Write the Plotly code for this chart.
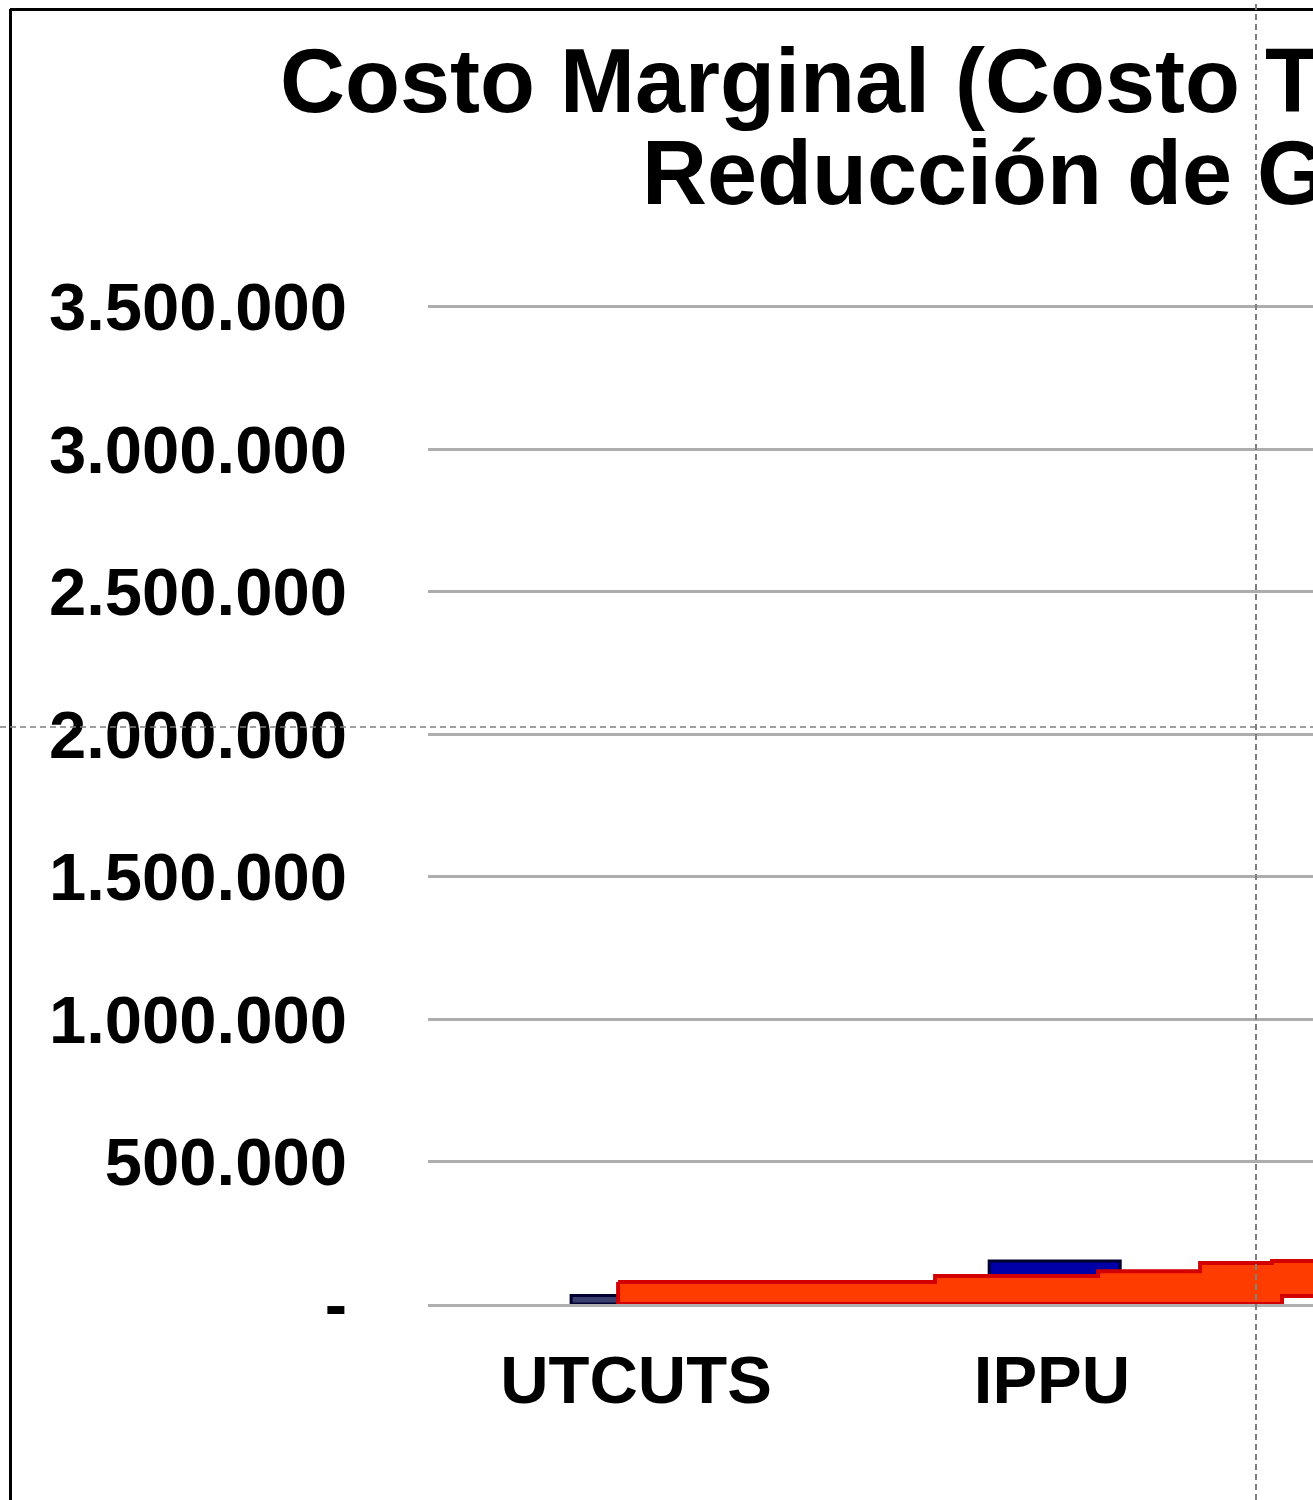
import numpy as np
import plotly.graph_objects as go

# ---------------- data ----------------
categories = ["UTCUTS", "IPPU"]          # sector bands (each one unit wide)
y_ticks = [0, 500000, 1000000, 1500000, 2000000, 2500000, 3000000, 3500000]

# blue columns (measure start, width, marginal cost)
blue_start = [0.344, 1.349]
blue_width = [0.113, 0.315]
blue_cost = [30000, 151000]
blue_fill = ["#3A3F70", "#0000A8"]

# red stepped cost curve (start, widths, costs, bases)
red_start = 0.457
red_width = [0.762, 0.392, 0.245, 0.173, 0.024, 0.40]
red_cost = [77000, 98000, 115000, 144000, 151000, 151000]
red_base = [0, 0, 0, 0, 0, 28000]

# ---------------- layout constants (pixels) ----------------
W, H = 1313, 1500
plot_left, plot_right = 428, 1313
y0_px, y35_px = 1304, 307
x_units = (plot_right - plot_left) / 416.0
y_top = 3550000
px_per_unit_y = (y0_px - y35_px) / 3500000
top_px = y0_px - y_top * px_per_unit_y

FONT = "Liberation Sans, Arial, sans-serif"

fig = go.Figure()

# blue bars
fig.add_trace(go.Bar(
    x=[s + w / 2 for s, w in zip(blue_start, blue_width)],
    width=blue_width,
    y=blue_cost,
    base=0,
    marker=dict(color=blue_fill, line=dict(color="#000030", width=3)),
    hoverinfo="skip",
))

# red step polygon built from data
edges = red_start + np.concatenate([[0], np.cumsum(red_width)])
xs, ys = [], []
for i in range(len(red_cost)):
    xs += [edges[i], edges[i + 1]]
    ys += [red_cost[i], red_cost[i]]
for i in reversed(range(len(red_cost))):
    xs += [edges[i + 1], edges[i]]
    ys += [red_base[i], red_base[i]]
xs.append(xs[0]); ys.append(ys[0])
fig.add_trace(go.Scatter(
    x=xs, y=ys, mode="lines", fill="toself",
    fillcolor="#FF3C00", line=dict(color="#D20000", width=4),
    hoverinfo="skip",
))

def fmt(v):
    return "-" if v == 0 else f"{v:,}".replace(",", ".")

fig.update_layout(
    width=W, height=H,
    margin=dict(l=0, r=0, t=0, b=0),
    paper_bgcolor="white", plot_bgcolor="white",
    showlegend=False,
    xaxis=dict(
        domain=[plot_left / W, 1.0],
        range=[0, x_units],
        tickvals=[i + 0.5 for i in range(len(categories))],
        ticktext=categories,
        tickfont=dict(family=FONT, size=67, color="black", weight="bold"),
        ticks="", showgrid=False, zeroline=False,
        showline=True, linecolor="#B0B0B0", linewidth=3,
        layer="below traces",
        ticklabelstandoff=16,
        automargin=False,
    ),
    yaxis=dict(
        domain=[(H - y0_px) / H, (H - top_px) / H],
        range=[0, y_top],
        tickvals=y_ticks,
        ticktext=[fmt(v) for v in y_ticks],
        tickfont=dict(family=FONT, size=67, color="black", weight="bold"),
        ticks="", showgrid=True, gridcolor="#ADADAD", gridwidth=3,
        zeroline=False, showline=False,
        ticklabelstandoff=80,
        automargin=False,
    ),
)

# title (two lines, cropped at right edge as in the reference)
fig.add_annotation(xref="paper", yref="paper", x=278 / W, y=1 - 81 / H,
                   xanchor="left", yanchor="middle", showarrow=False,
                   text="Costo Marginal (Costo Total de",
                   font=dict(family=FONT, size=90, color="black", weight="bold"))
fig.add_annotation(xref="paper", yref="paper", x=640 / W, y=1 - 173 / H,
                   xanchor="left", yanchor="middle", showarrow=False,
                   text="Reducción de GEI)",
                   font=dict(family=FONT, size=90, color="black", weight="bold"))

# frame and crosshair guides
fig.add_shape(type="line", xref="paper", yref="paper",
              x0=10.5 / W, x1=10.5 / W, y0=0, y1=1 - 9 / H,
              line=dict(color="black", width=3))
fig.add_shape(type="line", xref="paper", yref="paper",
              x0=10 / W, x1=1, y0=1 - 9.5 / H, y1=1 - 9.5 / H,
              line=dict(color="black", width=3))
fig.add_shape(type="line", xref="paper", yref="paper",
              x0=1256 / W, x1=1256 / W, y0=0, y1=1,
              line=dict(color="#7F7F7F", width=2, dash="6px,4px"))
fig.add_shape(type="line", xref="paper", yref="paper",
              x0=0, x1=1, y0=1 - 727 / H, y1=1 - 727 / H,
              line=dict(color="#7F7F7F", width=1.5, dash="6px,4px"))

fig.write_html("out.html",
               config={"displayModeBar": False},
               post_script="document.body.style.margin='0';document.body.style.overflow='hidden';")
